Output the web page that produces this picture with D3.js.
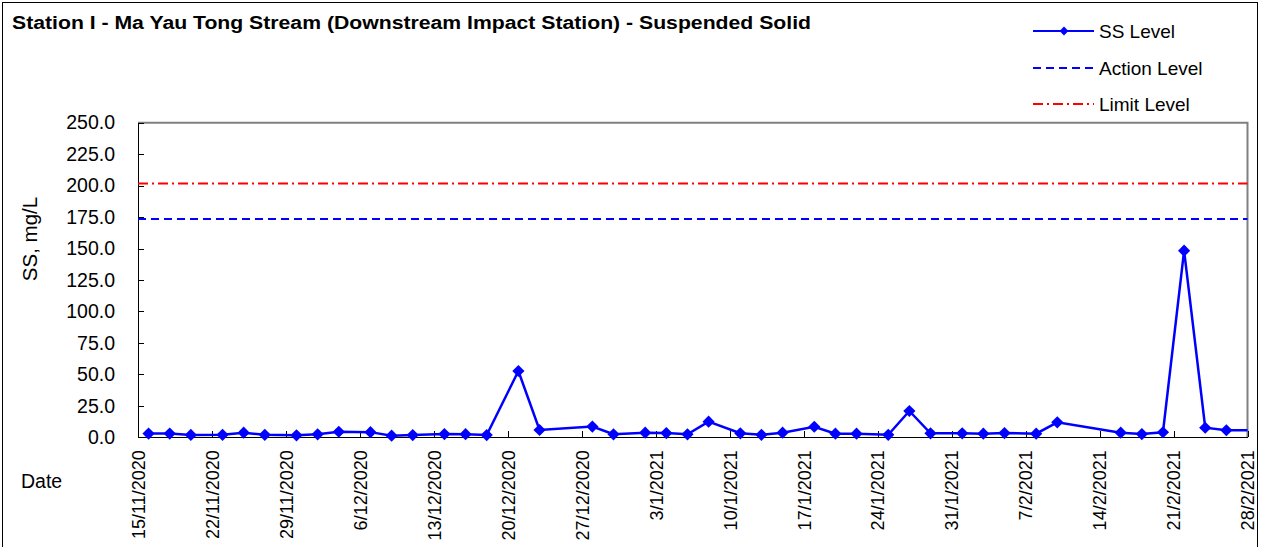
<html lang="en">
<head>
<meta charset="utf-8">
<title>Station I - Suspended Solid</title>
<style>
    body { margin: 0; background-color: white; font-family: Arial, "Liberation Sans", sans-serif; }
    svg { display: block; background-color: white; }
    .axis path, .axis line { fill: none; stroke: black; shape-rendering: crispEdges; }
    .axis text { font-family: Arial, "Liberation Sans", sans-serif; fill: black; font-size: 18px; }
    .y.axis text { font-size: 19.5px; }
    .title { font-size: 17.5px; font-weight: bold; }
    .legend text { font-size: 19px; }
</style>
</head>
<body>
<script src="https://cdnjs.cloudflare.com/ajax/libs/d3/7.8.5/d3.min.js"></script>
<script>
    // sampling dates and SS (mg/L)
    var sampleDates = ["16/11/2020", "18/11/2020", "20/11/2020", "23/11/2020", "25/11/2020", "27/11/2020",
        "30/11/2020", "2/12/2020", "4/12/2020", "7/12/2020", "9/12/2020", "11/12/2020", "14/12/2020",
        "16/12/2020", "18/12/2020", "21/12/2020", "23/12/2020", "28/12/2020", "30/12/2020", "2/1/2021",
        "4/1/2021", "6/1/2021", "8/1/2021", "11/1/2021", "13/1/2021", "15/1/2021", "18/1/2021",
        "20/1/2021", "22/1/2021", "25/1/2021", "27/1/2021", "29/1/2021", "1/2/2021", "3/2/2021",
        "5/2/2021", "8/2/2021", "10/2/2021", "16/2/2021", "18/2/2021", "20/2/2021", "22/2/2021",
        "24/2/2021", "26/2/2021", "1/3/2021"];
    var ssLevels = [3.0, 3.0, 1.9, 2.0, 3.7, 2.0,
        1.6, 2.4, 4.4, 4.1, 1.3, 1.8, 2.6,
        2.5, 1.8, 52.7, 5.8, 8.5, 2.4, 3.7,
        3.4, 2.4, 12.4, 3.2, 2.0, 3.7, 8.4,
        2.9, 2.9, 2.0, 20.9, 3.2, 3.2, 2.9,
        3.4, 2.9, 11.9, 3.7, 2.6, 4.0, 148.3,
        7.6, 5.6, 5.6];
    var actionLevel = 173.4;
    var limitLevel = 201.6;

    var xTickDates = ["15/11/2020", "22/11/2020", "29/11/2020", "6/12/2020", "13/12/2020", "20/12/2020",
        "27/12/2020", "3/1/2021", "10/1/2021", "17/1/2021", "24/1/2021", "31/1/2021", "7/2/2021",
        "14/2/2021", "21/2/2021", "28/2/2021"];
    var yTicks = [0, 25, 50, 75, 100, 125, 150, 175, 200, 225, 250];

    var fullwidth = 1263, fullheight = 547;
    var plot = { left: 138, top: 122.7, right: 1247.5, bottom: 437.3 };

    var parseDate = d3.timeParse("%d/%m/%Y"),
        formatDate = d3.timeFormat("%-d/%-m/%Y");

    var data = sampleDates.map(function(d, i) {
        return { date: parseDate(d), ss: ssLevels[i] };
    });
    var xTicks = xTickDates.map(parseDate);

    var svg = d3.select("body")
                .append("svg")
                .attr("width", fullwidth)
                .attr("height", fullheight);

    // outer chart frame
    svg.append("rect")
        .attr("x", 2.5).attr("y", 2.5)
        .attr("width", 1255).attr("height", 560)
        .attr("fill", "none")
        .attr("stroke", "black");

    var xScale = d3.scaleTime()
                    .domain([xTicks[0], xTicks[xTicks.length - 1]])
                    .range([plot.left, plot.right]);

    var yScale = d3.scaleLinear()
                    .domain([0, 250])
                    .range([plot.bottom, plot.top]);

    svg.append("defs").append("clipPath")
        .attr("id", "plotclip")
        .append("rect")
        .attr("x", plot.left).attr("y", plot.top - 10)
        .attr("width", plot.right - plot.left).attr("height", plot.bottom - plot.top + 20);

    // plot frame: grey top / right
    svg.append("path")
        .attr("d", "M" + plot.left + "," + plot.top + "H" + plot.right + "V" + plot.bottom)
        .attr("fill", "none")
        .attr("stroke", "#808080")
        .attr("stroke-width", 2);

    var xAxis = d3.axisBottom(xScale)
                    .tickValues(xTicks)
                    .tickSizeInner(-6)
                    .tickSizeOuter(0)
                    .tickFormat(formatDate);

    var yAxis = d3.axisLeft(yScale)
                    .tickValues(yTicks)
                    .tickSizeInner(-6)
                    .tickSizeOuter(0)
                    .tickFormat(d3.format(".1f"));

    svg.append("g")
        .attr("class", "y axis")
        .attr("transform", "translate(" + plot.left + ",0)")
        .call(yAxis)
        .selectAll("text")
        .attr("x", -23);

    var gx = svg.append("g")
        .attr("class", "x axis")
        .attr("transform", "translate(0," + plot.bottom + ")")
        .call(xAxis);

    gx.selectAll("text")
        .attr("transform", "rotate(-90)")
        .attr("x", -13)
        .attr("y", 0)
        .attr("dy", "0.35em")
        .style("text-anchor", "end");

    // Action / Limit lines
    svg.append("line")
        .attr("x1", plot.left).attr("x2", plot.right)
        .attr("y1", yScale(actionLevel)).attr("y2", yScale(actionLevel))
        .attr("stroke", "blue")
        .attr("stroke-width", 2)
        .attr("stroke-dasharray", "8,5");

    svg.append("line")
        .attr("x1", plot.left).attr("x2", plot.right)
        .attr("y1", yScale(limitLevel)).attr("y2", yScale(limitLevel))
        .attr("stroke", "red")
        .attr("stroke-width", 2)
        .attr("stroke-dasharray", "10,4,2,4");

    // SS line
    var line = d3.line()
                    .x(function(d) { return xScale(d.date); })
                    .y(function(d) { return yScale(d.ss); });

    var series = svg.append("g").attr("clip-path", "url(#plotclip)");

    series.append("path")
        .datum(data)
        .attr("d", line)
        .attr("fill", "none")
        .attr("stroke", "blue")
        .attr("stroke-width", 2.5);

    var diamond = d3.symbol().type(d3.symbolDiamond2).size(95);

    series.selectAll(".marker")
        .data(data)
        .enter()
        .append("path")
        .attr("class", "marker")
        .attr("d", diamond)
        .attr("transform", function(d) {
            return "translate(" + xScale(d.date) + "," + yScale(d.ss) + ")";
        })
        .attr("fill", "blue");

    // title + axis labels
    svg.append("text")
        .attr("class", "title")
        .attr("x", 12)
        .attr("y", 29)
        .attr("textLength", 799)
        .attr("lengthAdjust", "spacingAndGlyphs")
        .text("Station I - Ma Yau Tong Stream (Downstream Impact Station) - Suspended Solid");

    svg.append("text")
        .attr("transform", "translate(37,239) rotate(-90)")
        .attr("text-anchor", "middle")
        .style("font-size", "20.5px")
        .text("SS, mg/L");

    svg.append("text")
        .attr("x", 21)
        .attr("y", 488)
        .style("font-size", "19.5px")
        .text("Date");

    // legend
    var legendItems = [
        { label: "SS Level", color: "blue", dash: null, marker: true, y: 31 },
        { label: "Action Level", color: "blue", dash: "8,5", marker: false, y: 68 },
        { label: "Limit Level", color: "red", dash: "10,4,2,4", marker: false, y: 104 }
    ];

    var legend = svg.append("g").attr("class", "legend");
    var items = legend.selectAll("g")
        .data(legendItems)
        .enter()
        .append("g")
        .attr("transform", function(d) { return "translate(0," + d.y + ")"; });

    items.append("line")
        .attr("x1", 1033).attr("x2", 1094)
        .attr("y1", 0).attr("y2", 0)
        .attr("stroke", function(d) { return d.color; })
        .attr("stroke-width", 2)
        .attr("stroke-dasharray", function(d) { return d.dash; });

    items.filter(function(d) { return d.marker; })
        .append("path")
        .attr("d", d3.symbol().type(d3.symbolDiamond2).size(50))
        .attr("transform", "translate(1064,0)")
        .attr("fill", "blue");

    items.append("text")
        .attr("x", 1099)
        .attr("y", 0)
        .attr("dy", "0.35em")
        .text(function(d) { return d.label; });
</script>
</body>
</html>
